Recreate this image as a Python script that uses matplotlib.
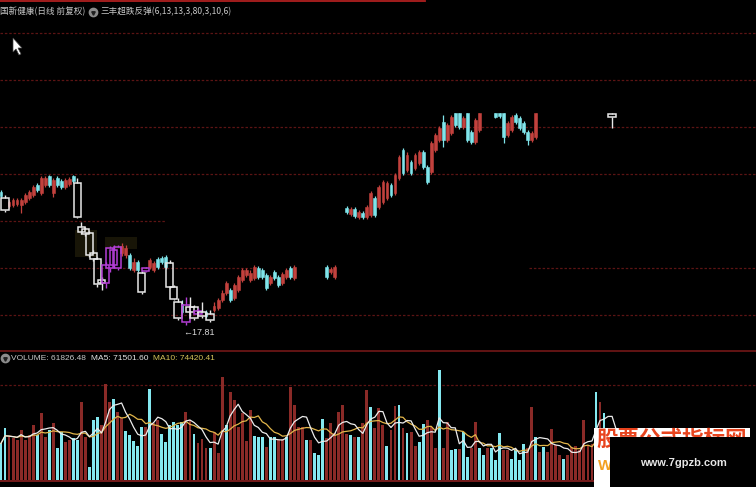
import numpy as np
import pandas as pd
import matplotlib
matplotlib.use("Agg")
import matplotlib.pyplot as plt
from matplotlib.patches import Rectangle, Polygon
from matplotlib.lines import Line2D

nan = np.nan

# daily candles, one entry per trading day (nan = blank in the screenshot)
opens = [23.51, 23.25, 22.91, 22.95, 22.99, 22.95, 23.08, 23.25, 23.38, 23.81,
         23.46, 23.81, 24.19, 23.46, 24.11, 23.98, 23.72, 23.85, 24.19, 23.89,
         22.01, 21.92, 21.75, 20.89, 20.64, 19.74, 19.61, 20.25, 20.38, 20.25,
         20.89, 20.81, 20.81, 20.17, 20.51, 20.04, 20.12, 20.29, 20.17, 20.64,
         20.68, 20.72, 20.47, 19.44, 18.80, 18.71, 17.94, 18.58, 18.58, 18.28,
         18.37, 18.37, 18.28, 18.45, 18.54, 18.88, 19.18, 19.31, 18.97, 19.31,
         19.74, 19.95, 19.74, 19.82, 20.25, 20.17, 19.95, 19.61, 20.08, 19.87,
         19.61, 19.87, 20.25, 19.82, nan, nan, nan, nan, nan, nan,
         nan, 20.29, 20.08, 19.87, nan, nan, 22.82, 22.57, 22.78, 22.44,
         22.61, 22.44, 22.52, 23.25, 22.87, 23.08, 23.25, 23.81, 23.46, 24.11,
         25.30, 24.45, 24.79, 24.54, 24.75, 25.22, 24.58, 24.36, 25.30, 25.73,
         26.51, 25.73, 26.03, 26.89, 26.89, 26.29, 26.89, 26.08, 25.65, 26.16,
         nan, nan, nan, 26.89, 26.89, 26.89, 25.95, 26.16, 26.80, 26.68,
         26.46, 26.08, 25.73, 25.86, nan, nan, nan, nan, nan, nan,
         nan, nan, nan, nan, nan, nan, nan, nan, nan, nan,
         nan, nan, 26.85, nan]
closes = [23.34, 22.74, 23.08, 23.16, 23.16, 23.16, 23.38, 23.51, 23.72, 23.59,
          24.11, 24.11, 23.81, 24.02, 23.81, 23.72, 24.02, 24.06, 23.98, 22.44,
          21.79, 21.71, 20.81, 20.64, 19.57, 19.61, 20.38, 21.11, 21.02, 21.15,
          21.19, 21.11, 20.25, 20.51, 20.17, 19.22, 20.25, 20.60, 20.47, 20.29,
          20.51, 20.29, 19.44, 18.92, 18.11, 18.37, 18.67, 18.37, 18.11, 18.41,
          18.20, 18.20, 18.02, 18.62, 18.88, 19.18, 19.61, 18.88, 19.52, 19.87,
          20.17, 20.17, 20.04, 20.29, 19.87, 19.87, 19.40, 19.87, 19.82, 19.52,
          19.99, 20.17, 19.87, 20.29, nan, nan, nan, nan, nan, nan,
          nan, 19.87, 20.21, 20.29, nan, nan, 22.65, 22.78, 22.48, 22.65,
          22.44, 22.87, 23.46, 22.52, 23.72, 23.94, 23.89, 23.38, 24.23, 25.01,
          24.32, 25.09, 24.32, 25.09, 25.22, 24.58, 23.94, 25.60, 25.95, 26.25,
          25.73, 26.38, 26.72, 26.38, 26.29, 26.68, 25.73, 25.65, 26.59, 26.89,
          nan, nan, nan, 26.72, 26.76, 25.86, 26.46, 26.72, 26.51, 26.25,
          26.08, 25.73, 26.03, 26.89, nan, nan, nan, nan, nan, nan,
          nan, nan, nan, nan, nan, nan, nan, nan, nan, nan,
          nan, nan, 26.72, nan]
highs = [23.59, 23.38, 23.16, 23.25, 23.25, 23.25, 23.46, 23.59, 23.81, 23.89,
         24.19, 24.19, 24.23, 24.11, 24.19, 24.06, 24.11, 24.15, 24.23, 24.11,
         22.22, 22.01, 21.84, 21.02, 20.72, 19.87, 20.51, 21.19, 21.24, 21.24,
         21.32, 21.24, 20.89, 20.68, 20.60, 20.12, 20.29, 20.68, 20.55, 20.72,
         20.77, 20.81, 20.60, 19.52, 18.97, 18.88, 19.01, 19.01, 18.67, 18.54,
         18.80, 18.45, 18.45, 18.80, 18.97, 19.31, 19.70, 19.40, 19.61, 19.95,
         20.25, 20.25, 20.17, 20.38, 20.34, 20.25, 20.04, 19.95, 20.17, 19.95,
         20.08, 20.25, 20.34, 20.38, nan, nan, nan, nan, nan, nan,
         nan, 20.38, 20.29, 20.38, nan, nan, 22.91, 22.87, 22.87, 22.74,
         22.69, 22.95, 23.55, 23.34, 23.81, 24.02, 23.98, 23.89, 24.32, 25.09,
         25.39, 25.22, 24.88, 25.18, 25.30, 25.30, 24.66, 25.69, 26.03, 26.33,
         26.80, 26.46, 26.80, 26.89, 26.89, 26.76, 26.89, 26.16, 26.68, 26.89,
         nan, nan, nan, 26.89, 26.89, 26.89, 26.55, 26.80, 26.89, 26.76,
         26.55, 26.16, 26.12, 26.89, nan, nan, nan, nan, nan, nan,
         nan, nan, nan, nan, nan, nan, nan, nan, nan, nan,
         nan, nan, 26.89, nan]
lows = [23.25, 22.65, 22.82, 22.87, 22.91, 22.61, 22.99, 23.16, 23.29, 23.51,
        23.38, 23.72, 23.72, 23.29, 23.72, 23.64, 23.64, 23.76, 23.89, 22.39,
        21.71, 21.62, 20.72, 20.55, 19.44, 19.31, 19.40, 20.08, 20.25, 20.17,
        20.77, 20.68, 20.17, 20.08, 20.08, 19.14, 20.08, 20.21, 20.08, 20.21,
        20.42, 20.21, 19.40, 18.88, 18.02, 18.28, 17.81, 18.20, 18.02, 18.20,
        18.11, 18.11, 17.94, 18.37, 18.45, 18.80, 19.10, 18.80, 18.88, 19.22,
        19.65, 19.87, 19.65, 19.74, 19.78, 19.78, 19.31, 19.52, 19.74, 19.44,
        19.52, 19.78, 19.78, 19.74, nan, nan, nan, nan, nan, nan,
        nan, 19.78, 19.99, 19.78, nan, nan, 22.57, 22.48, 22.39, 22.35,
        22.35, 22.35, 22.44, 22.44, 22.78, 22.99, 23.16, 23.29, 23.38, 24.02,
        24.23, 24.36, 24.23, 24.45, 24.66, 24.49, 23.85, 24.28, 25.22, 25.65,
        25.43, 25.65, 25.95, 26.29, 26.20, 26.20, 25.65, 25.56, 25.56, 26.08,
        nan, nan, nan, 26.68, 26.68, 25.60, 25.86, 26.08, 26.42, 26.16,
        25.99, 25.52, 25.65, 25.78, nan, nan, nan, nan, nan, nan,
        nan, nan, nan, nan, nan, nan, nan, nan, nan, nan,
        nan, nan, 26.25, nan]
# r = up, c = down, w / m = white / purple boxes of the 三丰超跌反弹 signal, - = not shown
styles = ("cwrrrrrrrc" "rrcrccrrcw" "wwwwwwmmmm" "rrcrcwmrrc" "ccwwwcmwwm"
          "wcwrrrrcrr" "rrrrcccrcc" "rrcr------" "-crr--crcr" "crrcrrrcrr"
          "crcrrccrrr" "crrccrccrr" "---cccrrcc" "ccrr------" "----------"
          "--w-")

volumes = [60500, 85300, 71500, 68800, 66000, 82500, 66000, 74300, 90800, 74300,
           110000, 71500, 82500, 93500, 52300, 79700, 63200, 66000, 68800, 66000,
           129200, 71500, 22000, 99000, 104500, 90800, 158400, 129200, 133100, 112700,
           101800, 81400, 74300, 64400, 56100, 88000, 88000, 149600, 93500, 99000,
           75900, 63200, 90800, 96200, 90800, 96200, 112700, 99000, 75900, 60500,
           67700, 52300, 52300, 79700, 44000, 169400, 90800, 144700, 132000, 88000,
           110000, 64900, 115500, 72600, 70400, 70400, 53900, 70400, 71500, 66000,
           67700, 71500, 152900, 123800, 88000, 88000, 66000, 66000, 45100, 41300,
           100100, 68800, 93500, 77000, 112700, 123800, 75900, 74300, 70400, 70400,
           93500, 148500, 121000, 85300, 118300,
           90800, 56100, 82500, 122100, 123800, 85300, 77000, 79700, 56100, 63200,
           91900, 99000, 88000, 52300, 181500, 52300, 96200, 49500, 50600, 50600,
           79700, 38500, 52300, 96200, 52300, 41300, 52300, 52300, 33000, 78100,
           49500, 49500, 34100, 50600, 33000, 59400, 52300, 121000, 70400, 46700,
           53900, 46700, 83600, 57800, 41300, 34100, 41300, 53900, 56100, 49500,
           99000, 57800, 59400, 145700, 129200, 110000,
           80000, 60000, 40000]
vol_dirs = ("ccrrrrrrrc" "rrcrccrrcc" "rrcccrrrcr" "rcccccrcrr" "ccccccrrcr"
            "rrcrrrcrrr" "rrrcccrccr" "rcrrrrcrcc" "crrrrrrcrc" "rrcrr"
            "rcrrcrcrrc" "crrrcrrccr" "ccrrccrccc" "rrccccrrcr" "crrrrcrrrr"
            "rrrcrc" "rcr")

title_left = "国新健康(日线 前复权)"
title_right = "三丰超跌反弹(6,13,13,3,80,3,10,6)"
vol_text = "VOLUME: 61826.48"
ma5_text = "MA5: 71501.60"
ma10_text = "MA10: 74420.41"
grid_levels = [30.32, 28.31, 26.30, 24.29, 22.28, 20.27, 18.26]
glow_ranges = [(18.4, 23.9, 20.72, 21.88), (25.9, 33.8, 21.06, 21.58)]

RED = '#c2413d'
CYAN = '#7fe4ea'
WHITE = '#e8e8e8'
PURPLE = '#b43ed6'
VRED = '#8a2a27'
VCYAN = '#84e8f0'
GRID = '#5c1414'
CJK = ['Noto Sans CJK SC', 'DejaVu Sans']
LAT = ['Liberation Sans', 'DejaVu Sans']

W, H = 756, 487
def fx(px):
    return px / W
def fy(py):
    return 1 - py / H

fig = plt.figure(figsize=(W / 100, H / 100), dpi=100, facecolor='black')

# price panel
ax = fig.add_axes([0, fy(350), 1, 350 / H])
ax.set_axis_off()
ax.set_xlim(-0.25, 187.8)
ax.set_ylim(16.74, 31.73)

for lv in grid_levels:
    if lv == 22.28:
        ax.axhline(lv, xmax=0.22, color=GRID, lw=0.9, ls=(0, (2, 1.5)), zorder=0)
    elif lv == 20.27:
        ax.axhline(lv, xmax=0.34, color=GRID, lw=0.9, ls=(0, (2, 1.5)), zorder=0)
        ax.axhline(lv, xmin=0.70, color=GRID, lw=0.9, ls=(0, (2, 1.5)), zorder=0)
    else:
        ax.axhline(lv, color=GRID, lw=0.9, ls=(0, (2, 1.5)), zorder=0)

for x0, x1, y0, y1 in glow_ranges:
    ax.add_patch(Rectangle((x0, y0), x1 - x0, y1 - y0, facecolor='#6e6422',
                           edgecolor='none', alpha=0.22, zorder=1))

for i in range(len(opens)):
    s = styles[i]
    if s == '-':
        continue
    o, c, h, l = opens[i], closes[i], highs[i], lows[i]
    top, bot = max(o, c), min(o, c)
    if s in 'wm':
        col = WHITE if s == 'w' else PURPLE
        ax.add_patch(Rectangle((i - 0.9, bot), 1.8, max(top - bot, 0.03), fill=False,
                               edgecolor=col, lw=1.1, zorder=4))
        ax.vlines(i, top, h, color=col, lw=1, zorder=4)
        ax.vlines(i, l, bot, color=col, lw=1, zorder=4)
    else:
        col = RED if s == 'r' else CYAN
        ax.vlines(i, l, h, color=col, lw=0.9, zorder=2)
        ax.add_patch(Rectangle((i - 0.35, bot), 0.7, max(top - bot, 0.03),
                               facecolor=col, edgecolor=col, lw=0.4, zorder=3))

lo = int(np.nanargmin(lows))
ax.text(lo - 0.7, lows[lo] - 0.34, '\u2190' + f'{lows[lo]:.2f}', color='#d8d8d8',
        fontsize=6.5, family=LAT, ha='left', va='center', zorder=5)

# volume panel
ax2 = fig.add_axes([0, 0, 1, 136 / H])
ax2.set_axis_off()
ax2.set_xlim(-0.25, 187.8)
ax2.set_ylim(-11550, 212850)
xv = np.arange(len(volumes))
ax2.bar(xv, volumes, width=0.72, color=[VRED if d == 'r' else VCYAN for d in vol_dirs],
        zorder=2)
vs = pd.Series(volumes, dtype=float)
ax2.plot(xv, vs.rolling(10, min_periods=1).mean(), color='#e2b64a', lw=0.9, zorder=3)
ax2.plot(xv, vs.rolling(5, min_periods=1).mean(), color='#ececec', lw=0.9, zorder=4)
ax2.axhline(156750, color=GRID, lw=0.9, ls=(0, (2, 1.5)), zorder=0)
ax2.axhline(-1650, color='#8a2020', lw=1.2, zorder=1)

# frame lines
fig.add_artist(Line2D([0, fx(425)], [fy(0.6), fy(0.6)], color='#b02020', lw=1.3,
                      transform=fig.transFigure))
fig.add_artist(Line2D([0, 1], [fy(351), fy(351)], color='#7c1a1a', lw=1.1,
                      transform=fig.transFigure))

# header texts
fig.text(fx(0), fy(12), title_left, color='#c8c8c8', fontsize=6.2, family=CJK,
         ha='left', va='center')
fig.add_artist(Line2D([fx(93)], [fy(12)], marker='o', markersize=6, color='#8c8c8c',
                      transform=fig.transFigure))
fig.add_artist(Line2D([fx(93)], [fy(12.5)], marker='v', markersize=2.5, color='#202020',
                      transform=fig.transFigure))
fig.text(fx(100), fy(12), title_right, color='#c8c8c8', fontsize=6.2, family=CJK,
         ha='left', va='center')

fig.add_artist(Line2D([fx(5)], [fy(358)], marker='o', markersize=6, color='#8c8c8c',
                      transform=fig.transFigure))
fig.add_artist(Line2D([fx(5)], [fy(358.5)], marker='v', markersize=2.5, color='#202020',
                      transform=fig.transFigure))
fig.text(fx(11), fy(358), vol_text, color='#c8c8c8', fontsize=6.0, family=LAT,
         ha='left', va='center')
fig.text(fx(91), fy(358), ma5_text, color='#e4e4e4', fontsize=6.0, family=LAT,
         ha='left', va='center')
fig.text(fx(153), fy(358), ma10_text, color='#d6c45a', fontsize=6.0, family=LAT,
         ha='left', va='center')

# mouse pointer
cursor = [(13, 38), (13, 52), (16, 49), (19, 55), (21, 54), (18, 48), (22, 48)]
fig.add_artist(Polygon([(fx(a), fy(b)) for a, b in cursor], closed=True,
                       facecolor='white', edgecolor='#444444', lw=0.5,
                       transform=fig.transFigure, zorder=10))

# site watermark
fig.add_artist(Rectangle((fx(594), fy(487)), fx(750) - fx(594), fy(428) - fy(487),
                         facecolor='white', edgecolor='none', transform=fig.transFigure,
                         zorder=20))
fig.text(fx(596), fy(429), "股票公式指标网", color='#e8441e', fontsize=15.5,
         fontweight='bold', family=CJK, ha='left', va='top', zorder=21)
fig.text(fx(598), fy(466), "W", color='#f2a020', fontsize=11, fontweight='bold',
         family=LAT, ha='left', va='center', zorder=21)
fig.add_artist(Rectangle((fx(610), fy(487)), 1 - fx(610), fy(437) - fy(487),
                         facecolor='black', edgecolor='none', transform=fig.transFigure,
                         zorder=22))
fig.text(fx(683), fy(463), "www.7gpzb.com", color='#e6e6e6', fontsize=8,
         fontweight='bold', family=LAT, ha='center', va='center', zorder=23)

fig.savefig('out.png', dpi=100, facecolor='black')
